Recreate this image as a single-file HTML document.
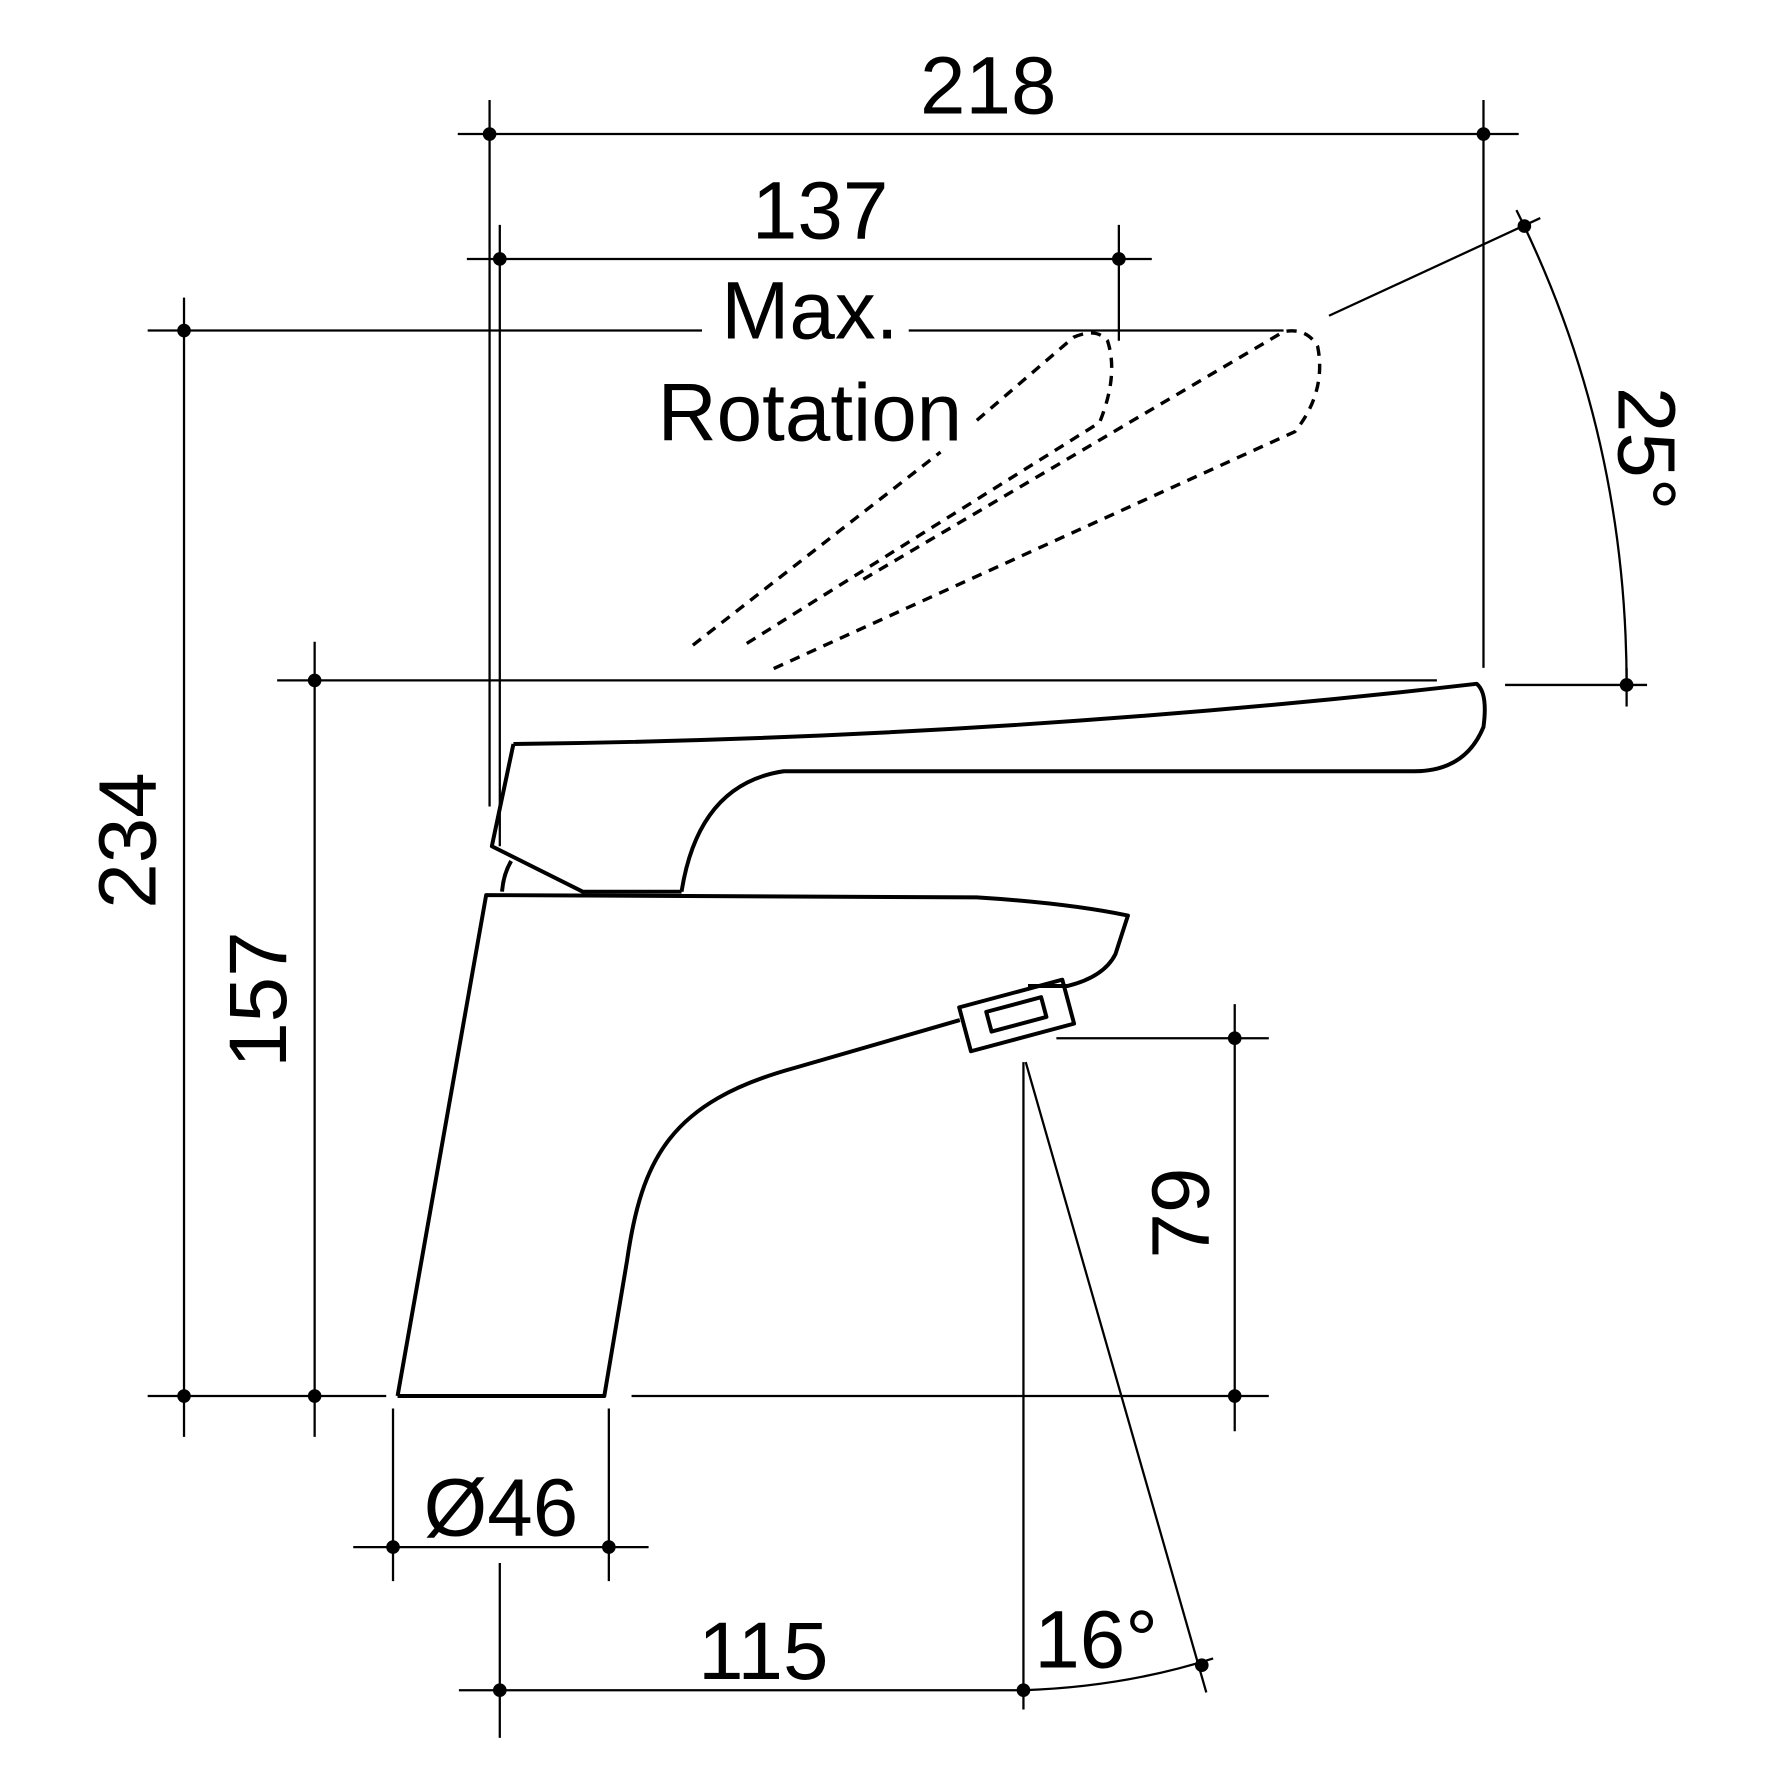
<!DOCTYPE html>
<html><head><meta charset="utf-8"><style>html,body{margin:0;padding:0;background:#fff}svg{display:block}</style></head>
<body>
<svg width="1772" height="1772" viewBox="0 0 1560 1560" xmlns="http://www.w3.org/2000/svg" font-family="Liberation Sans, sans-serif" fill="none" stroke="#000">
<g stroke-width="2">
<line x1="403" y1="118" x2="1337" y2="118"/>
<line x1="431" y1="88" x2="431" y2="710"/>
<line x1="1306" y1="88" x2="1306" y2="588"/>
<line x1="411" y1="228" x2="1014" y2="228"/>
<line x1="440" y1="198" x2="440" y2="745"/>
<line x1="985" y1="198" x2="985" y2="300"/>
<line x1="130" y1="291" x2="618" y2="291"/>
<line x1="800" y1="291" x2="1130" y2="291"/>
<line x1="162" y1="262" x2="162" y2="1265"/>
<line x1="244" y1="599" x2="1265" y2="599"/>
<line x1="277" y1="565" x2="277" y2="1265"/>
<line x1="130" y1="1229" x2="340" y2="1229"/>
<line x1="556" y1="1229" x2="1117" y2="1229"/>
<line x1="930" y1="914" x2="1117" y2="914"/>
<line x1="1087" y1="884" x2="1087" y2="1260"/>
<line x1="346" y1="1240" x2="346" y2="1392"/>
<line x1="536" y1="1240" x2="536" y2="1392"/>
<line x1="311" y1="1362" x2="571" y2="1362"/>
<line x1="404" y1="1488" x2="902" y2="1488"/>
<line x1="440" y1="1376" x2="440" y2="1530"/>
<line x1="901" y1="935" x2="901" y2="1505"/>
<line x1="903" y1="935" x2="1062" y2="1490"/>
<path d="M901 1488 Q990 1485 1068 1460"/>
<line x1="1170" y1="278" x2="1356" y2="192"/>
<path d="M1335 185 Q1432 380 1432 603"/>
<line x1="1325" y1="603" x2="1450" y2="603"/>
<line x1="1432" y1="588" x2="1432" y2="622"/>
</g>
<g fill="#000" stroke="none">
<circle cx="431" cy="118" r="6"/><circle cx="1306" cy="118" r="6"/>
<circle cx="440" cy="228" r="6"/><circle cx="985" cy="228" r="6"/>
<circle cx="162" cy="291" r="6"/><circle cx="162" cy="1229" r="6"/>
<circle cx="277" cy="599" r="6"/><circle cx="277" cy="1229" r="6"/>
<circle cx="1087" cy="914" r="6"/><circle cx="1087" cy="1229" r="6"/>
<circle cx="346" cy="1362" r="6"/><circle cx="536" cy="1362" r="6"/>
<circle cx="440" cy="1488" r="6"/><circle cx="901" cy="1488" r="6"/>
<circle cx="1058" cy="1466" r="6"/><circle cx="1342" cy="199" r="6"/>
<circle cx="1432" cy="603" r="6"/>
</g>
<g fill="#000" stroke="none" font-size="72" text-anchor="middle">
<text x="870" y="100">218</text>
<text x="722" y="210">137</text>
<text x="713" y="298">Max.</text>
<text x="713" y="388">Rotation</text>
<text x="441" y="1352">Ø46</text>
<text x="672" y="1478">115</text>
<text x="965" y="1468">16°</text>
<text transform="translate(137,740) rotate(-90)">234</text>
<text transform="translate(252,880) rotate(-90)">157</text>
<text transform="translate(1064,1068) rotate(-90)">79</text>
<text transform="translate(1425,395) rotate(90)">25°</text>
</g>
<g stroke-width="3.5" stroke-linejoin="round">
<path d="M350 1229 L532 1229 L552 1110 C565 1020 590 970 700 940 L845 898"/>
<path d="M350 1229 L428 788 L860 790 Q940 795 993 806 L982 840 Q972 860 940 868 L905 868"/>
<rect x="848" y="874" width="94" height="40" transform="rotate(-15 895 894)"/>
<rect x="870" y="884" width="50" height="18" transform="rotate(-15 895 894)"/>
<path d="M452 655 Q880 650 1300 602 Q1310 610 1306 640 Q1290 679 1245 679 L690 679 Q615 690 600 785"/>
<path d="M452 655 L433 745 L513 785 L600 785"/>
<path d="M450 758 Q443 770 442 785"/>
</g>
<g stroke-width="3" stroke-dasharray="9 7">
<path d="M610 568 L828 398"/>
<path d="M860 370 L945 297 Q965 288 975 300 Q985 330 968 372 L655 568"/>
<path d="M760 510 L1130 292 Q1150 288 1160 305 Q1168 345 1140 380 L678 590"/>
</g>
</svg>
</body></html>
